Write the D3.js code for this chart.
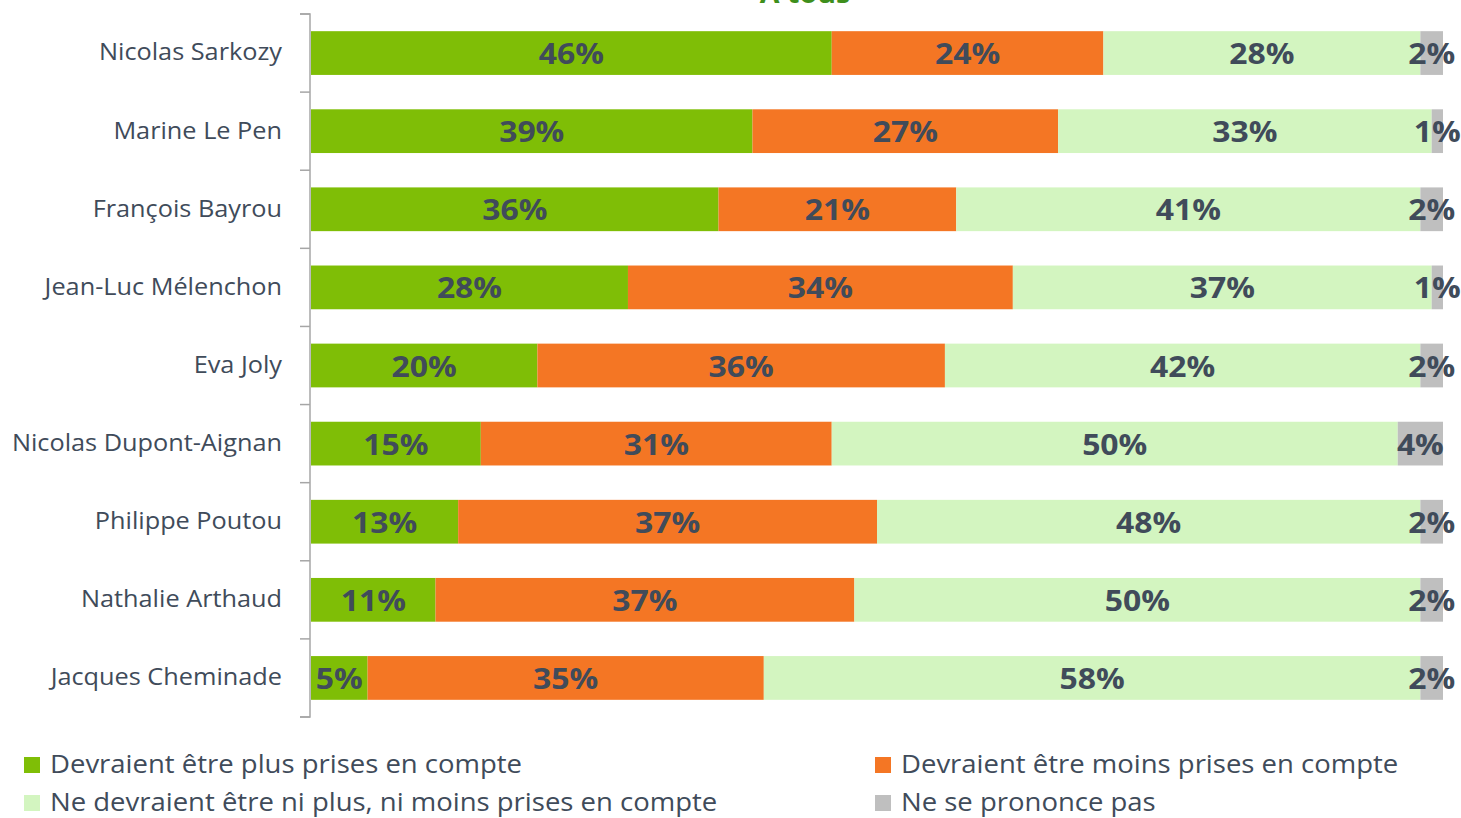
<!DOCTYPE html>
<html><head><meta charset="utf-8">
<script src="https://cdn.jsdelivr.net/npm/d3@7"></script>
<style>body{margin:0;background:#fff;}svg{display:block;}</style>
</head><body>
<svg id="c" width="1461" height="818"></svg>
<script>
const categories = ["Nicolas Sarkozy","Marine Le Pen","François Bayrou","Jean-Luc Mélenchon","Eva Joly","Nicolas Dupont-Aignan","Philippe Poutou","Nathalie Arthaud","Jacques Cheminade"];
const seriesNames = ["Devraient être plus prises en compte","Devraient être moins prises en compte","Ne devraient être ni plus, ni moins prises en compte","Ne se prononce pas"];
const plus = [46,39,36,28,20,15,13,11,5];
const moins = [24,27,21,34,36,31,37,37,35];
const ni = [28,33,41,37,42,50,48,50,58];
const nsp = [2,1,2,1,2,4,2,2,2];
const colors = ["#7fbe06","#f47624","#d3f5c0","#bfbfbf"];
const title = "À tous";

const SX = 1.1;
const svg = d3.select("#c");
const rows = categories.map((c,i)=>({cat:c, v:[plus[i],moins[i],ni[i],nsp[i]]}));
const x = d3.scaleLinear().domain([0,100]).range([311,1443]);
const y = d3.scaleBand().domain(categories).range([14,717]).paddingInner(0.44).paddingOuter(0.22);

svg.append("text").attr("transform",`translate(805,3) scale(${SX},1)`).attr("text-anchor","middle")
  .attr("font-family","Open Sans").attr("font-weight","bold").attr("font-size",26)
  .attr("fill","#3e8f1c").text(title);

const textCol = "#404b5a";
rows.forEach(r=>{
  let acc=0;
  r.v.forEach((v,k)=>{
    const x0=x(acc), x1=x(acc+v);
    svg.append("rect").attr("x",x0).attr("y",y(r.cat)).attr("width",x1-x0).attr("height",y.bandwidth())
      .attr("fill",colors[k]);
    svg.append("text").attr("transform",`translate(${(x0+x1)/2},${y(r.cat)+y.bandwidth()/2+11}) scale(${SX},1)`)
      .attr("text-anchor","middle").attr("font-family","Open Sans").attr("font-weight","bold")
      .attr("font-size",29).attr("fill",textCol).text(v+"%");
    acc+=v;
  });
});

// axis
const axis = d3.axisLeft(y).tickSize(0).tickPadding(0);
const g = svg.append("g").attr("transform","translate(310,0)").call(axis);
g.select(".domain").attr("stroke","#a6a6a6").attr("stroke-width",1.5).attr("d","M-10,14H0V717H-10");
g.selectAll(".tick text").attr("x",0).attr("transform",`translate(-28,0) scale(${SX},1)`)
  .attr("font-family","Open Sans").attr("font-size",23).attr("fill",textCol);
const step = (717-14)/categories.length;
d3.range(categories.length+1).forEach(i=>{
  g.append("line").attr("x1",-10).attr("x2",0).attr("y1",14+i*step).attr("y2",14+i*step)
   .attr("stroke","#a6a6a6").attr("stroke-width",1.5);
});

// legend
const leg = [{k:0,x:24,y:757},{k:1,x:875,y:757},{k:2,x:24,y:795},{k:3,x:875,y:795}];
leg.forEach(l=>{
  svg.append("rect").attr("x",l.x).attr("y",l.y).attr("width",16).attr("height",16).attr("fill",colors[l.k]);
  svg.append("text").attr("transform",`translate(${l.x+26},${l.y+16}) scale(${SX},1)`).attr("font-family","Open Sans").attr("font-size",25)
    .attr("fill",textCol).text(seriesNames[l.k]);
});
</script>
</body></html>
